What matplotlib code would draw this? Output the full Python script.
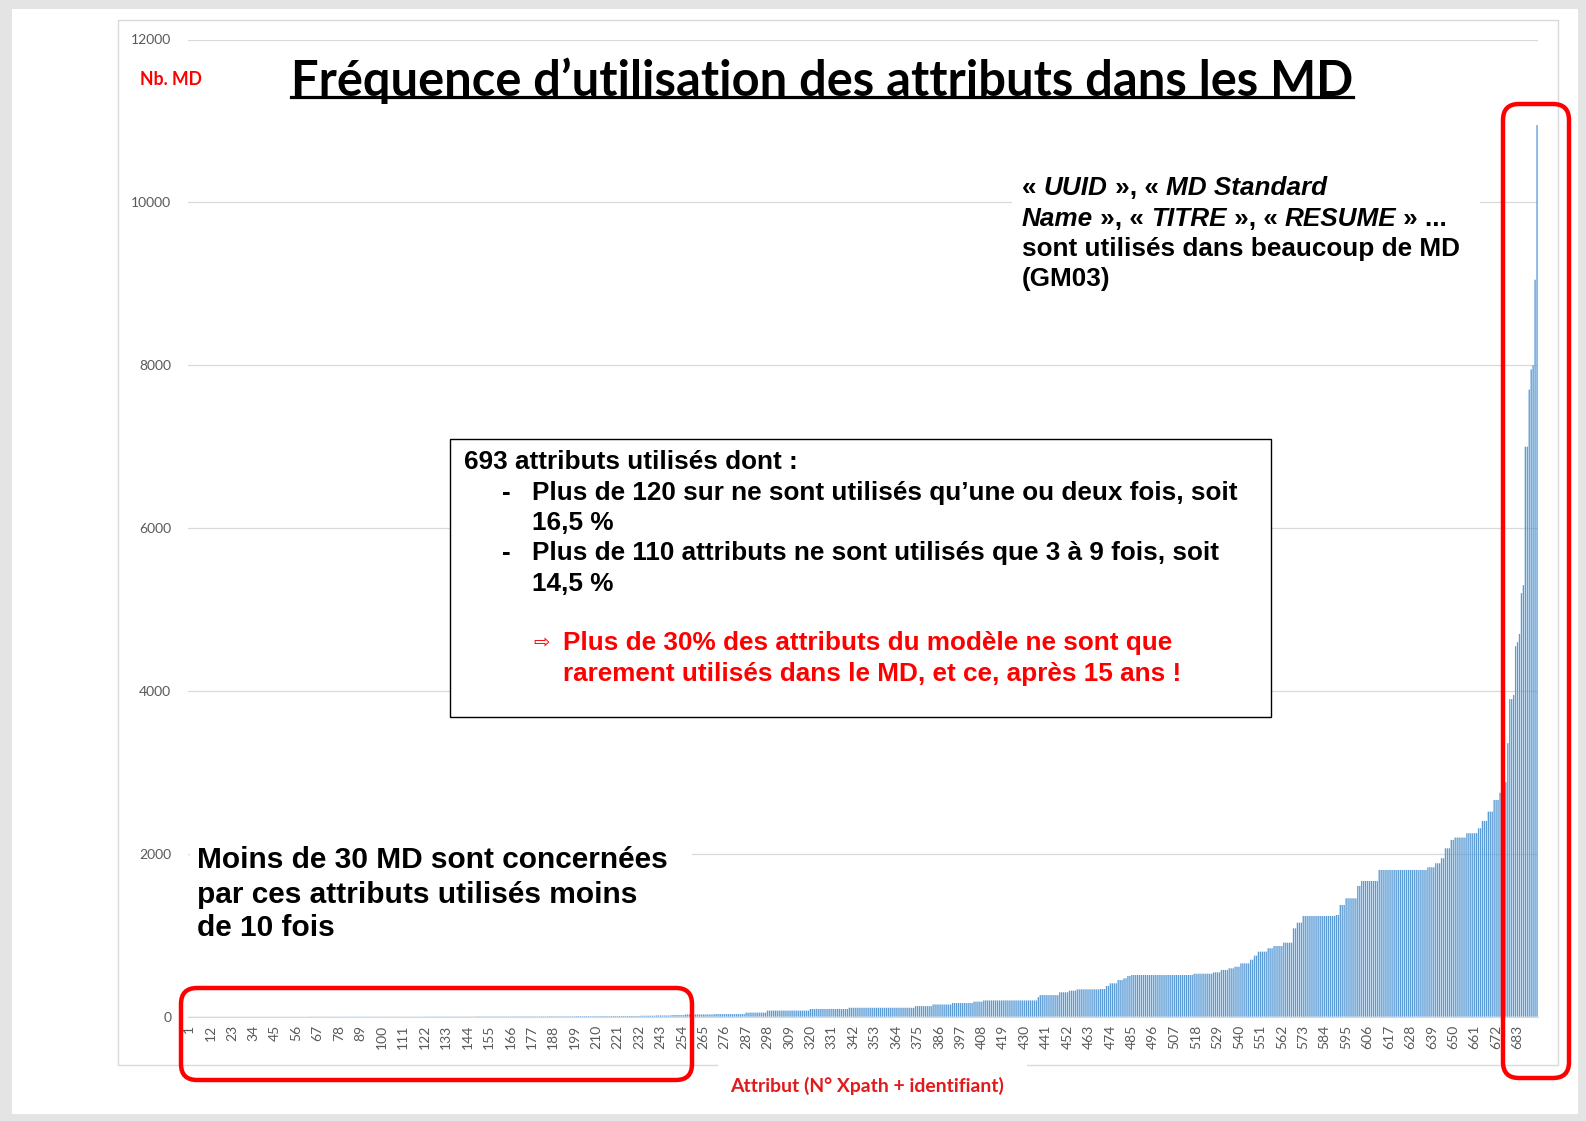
import numpy as np
import matplotlib
matplotlib.use('Agg')
import matplotlib.pyplot as plt
from matplotlib.patches import Rectangle, FancyBboxPatch
from matplotlib.transforms import IdentityTransform
from matplotlib.lines import Line2D

# usage count per attribute, sorted ascending (run-length: value, number of attributes)
md_values = [1, 2, 3, 4, 5, 6, 7, 8, 9, 12, 15, 20, 28, 32, 50, 75, 95, 110, 130, 150,
             168, 185, 200, 240, 265, 300, 320, 336, 340, 377, 410, 450, 471, 500, 512,
             528, 545, 573, 594, 614, 655, 700, 750, 799, 840, 868, 909, 1085, 1155,
             1237, 1249, 1372, 1454, 1606, 1667, 1802, 1835, 1884, 1946, 2068, 2171,
             2200, 2253, 2314, 2404, 2519, 2662, 2750, 2880, 3359, 3900, 3950, 4550,
             4600, 4700, 5200, 5300, 7000, 7700, 7950, 8000, 9050, 10950]
md_counts = [62, 60, 25, 20, 18, 14, 12, 11, 10, 8, 8, 7, 15, 16, 11, 22, 20, 34, 9, 10,
             11, 5, 28, 1, 10, 5, 4, 12, 3, 2, 4, 3, 2, 2, 32,
             10, 4, 4, 3, 3, 5, 2, 2, 5, 3, 5, 5, 2, 3,
             17, 2, 3, 6, 2, 9, 25, 4, 3, 2, 3, 2,
             6, 6, 2, 3, 3, 3, 2, 2, 1, 2, 1, 1,
             1, 1, 1, 1, 2, 1, 1, 1, 1, 1]
y_ticks = [0, 2000, 4000, 6000, 8000, 10000, 12000]
x_tick_labels = list(range(1, 694, 11))

heights = np.repeat(md_values, md_counts)
attr = np.arange(1, len(heights) + 1)

W, H = 1586, 1121
fig = plt.figure(figsize=(W / 100, H / 100), dpi=100, facecolor='#e4e4e4')
ident = IdentityTransform()


def fx(x):
    return x / W


def fy(y):
    return 1 - y / H


def prect(x0, y0, x1, y1, **kw):
    # rectangle in pixel coords (top-left origin)
    p = Rectangle((x0, H - y1), x1 - x0, y1 - y0, transform=ident, **kw)
    fig.add_artist(p)
    return p


# white page
prect(12, 9, 1578, 1114, facecolor='white', edgecolor='none', zorder=0)
# plot area border
prect(118, 20, 1558, 1065, facecolor='none', edgecolor='#d9d9d9', lw=1, zorder=0.5)

ax = fig.add_axes([fx(188), fy(1016.7), (1538 - 188) / W, (1016.7 - 39.5) / H])
ax.set_facecolor('none')
ax.bar(attr, heights, width=0.68, color='#5b9bd5', lw=0, snap=False, zorder=2)
ax.set_xlim(0.5, len(heights) + 0.5)
ax.set_ylim(0, 12000)
ax.set_yticks(y_ticks)
ax.set_yticklabels([str(v) for v in y_ticks], fontsize=10, color='#595959', family='Lato')
ax.set_xticks(x_tick_labels)
ax.set_xticklabels([str(v) for v in x_tick_labels], rotation=90, fontsize=10,
                   color='#595959', family='Lato')
ax.tick_params(axis='y', length=0, pad=12)
ax.tick_params(axis='x', length=0, pad=6)
ax.grid(axis='y', color='#d9d9d9', lw=0.9, zorder=0)
for s in ['top', 'right', 'left']:
    ax.spines[s].set_visible(False)
ax.spines['bottom'].set_color('#d9d9d9')

fig.canvas.draw()
r = fig.canvas.get_renderer()


def width_of(s, **kw):
    t = fig.text(0, 0, '|' + s + '|', **kw)
    w1 = t.get_window_extent(r).width
    t.set_text('||')
    w2 = t.get_window_extent(r).width
    t.remove()
    return w1 - w2


def fit_size(s, target, **kw):
    return 10 * target / width_of(s, fontsize=10, **kw)


def line(x, y, pieces, size, **kw):
    # y is the visual centre of the line, pixels
    base = y + 0.36 * size * 100 / 72
    for s, style in pieces:
        fig.text(fx(x), fy(base), s, fontsize=size, fontstyle=style,
                 va='baseline', ha='left', zorder=5, **kw)
        x += width_of(s, fontsize=size, fontstyle=style, **kw)


# title
tkw = dict(family='Lato', fontweight='bold', color='black')
title = "Fréquence d’utilisation des attributs dans les MD"
ts = fit_size(title, 1067, **tkw)
tt = fig.text(fx(822), fy(78 + 0.36 * ts * 100 / 72), title, fontsize=ts, ha='center',
              va='baseline', zorder=5, **tkw)
bb = tt.get_window_extent(r)
fig.add_artist(Line2D([bb.x0, bb.x1], [H - 97, H - 97], transform=ident, color='black', lw=2.3))

# y axis title
nkw = dict(family='Lato', fontweight='bold', color='#ff0000')
ns = fit_size('Nb. MD', 62, **nkw)
line(140, 79, [('Nb. MD', 'normal')], ns, **nkw)

# x axis title
xkw = dict(family='Lato', fontweight='bold', color='#e31a1c')
xs = fit_size('Attribut (N° Xpath + identifiant)', 274, **xkw)
prect(718, 1058, 1027, 1072, facecolor='white', edgecolor='none', zorder=1)
line(730, 1085, [('Attribut (N° Xpath + identifiant)', 'normal')], xs, **xkw)

# top right note
akw = dict(family='Liberation Sans', fontweight='bold', color='black')
asz = fit_size('sont utilisés dans beaucoup de MD', 438, **akw)
prect(1012, 166, 1480, 296, facecolor='white', edgecolor='none', zorder=1)
n, i = 'normal', 'italic'
line(1022, 186, [('« ', n), ('UUID', i), (' », « ', n), ('MD Standard', i)], asz, **akw)
line(1022, 216.5, [('Name', i), (' », « ', n), ('TITRE', i), (' », « ', n),
                   ('RESUME', i), (' » ...', n)], asz, **akw)
line(1022, 247, [('sont utilisés dans beaucoup de MD', n)], asz, **akw)
line(1022, 277, [('(GM03)', n)], asz, **akw)

# central box
prect(450, 439, 1271, 717, facecolor='white', edgecolor='black', lw=1, zorder=1)
bkw = dict(family=['Liberation Sans', 'DejaVu Sans'], fontweight='bold', color='black')
l2 = 'Plus de 120 sur ne sont utilisés qu’une ou deux fois, soit'
bs = fit_size(l2, 706, **bkw)
line(464, 460, [('693 attributs utilisés dont :', n)], bs, **bkw)
line(502, 490.6, [('-', n)], bs, **bkw)
line(532, 490.6, [(l2, n)], bs, **bkw)
line(532, 521, [('16,5 %', n)], bs, **bkw)
line(502, 551, [('-', n)], bs, **bkw)
line(532, 551, [('Plus de 110 attributs ne sont utilisés que 3 à 9 fois, soit', n)], bs, **bkw)
line(532, 581.6, [('14,5 %', n)], bs, **bkw)
rkw = dict(bkw, color='#ff0000')
line(533, 641, [('⇨', n)], 14, **dict(rkw, family='DejaVu Sans', fontweight='normal'))
line(563, 641, [('Plus de 30% des attributs du modèle ne sont que', n)], bs, **rkw)
line(563, 671.6, [('rarement utilisés dans le MD, et ce, après 15 ans !', n)], bs, **rkw)

# bottom left note
lkw = dict(family='Liberation Sans', fontweight='bold', color='black')
ls = fit_size('Moins de 30 MD sont concernées', 471, **lkw)
prect(190, 830, 692, 945, facecolor='white', edgecolor='none', zorder=1)
line(197, 857, [('Moins de 30 MD sont concernées', n)], ls, **lkw)
line(197, 892, [('par ces attributs utilisés moins', n)], ls, **lkw)
line(197, 925.5, [('de 10 fois', n)], ls, **lkw)

# red highlight frames
for x0, y0, x1, y1 in [(181, 988, 692, 1080), (1503, 104, 1569, 1078)]:
    fig.add_artist(FancyBboxPatch((x0, H - y1), x1 - x0, y1 - y0,
                                  boxstyle='round,pad=0,rounding_size=16', transform=ident,
                                  facecolor='none', edgecolor='#ff0000', lw=3.2, zorder=6))

fig.savefig('out.png', dpi=100, facecolor=fig.get_facecolor())
